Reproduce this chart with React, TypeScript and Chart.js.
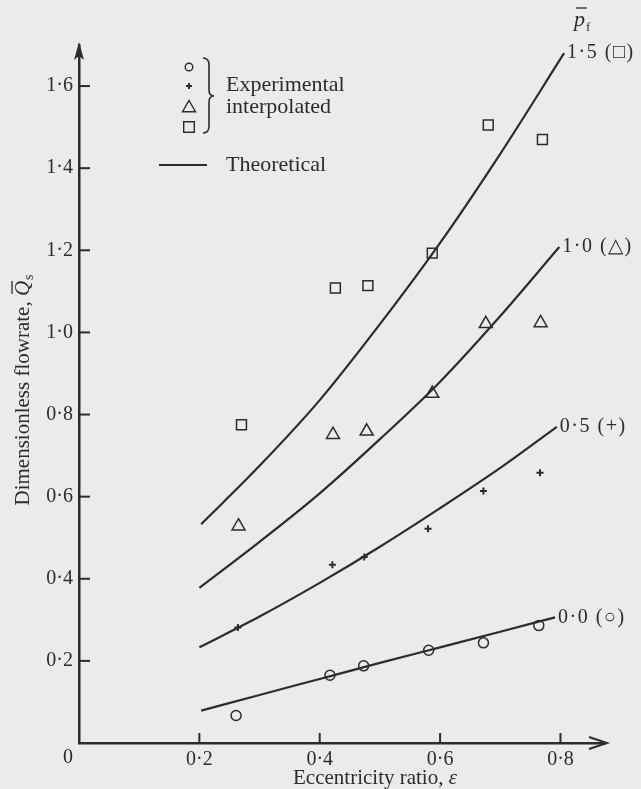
import React, { useEffect, useRef } from 'react';
import { Chart, registerables } from 'chart.js';

Chart.register(...registerables);

// ---- Theoretical curves (eccentricity ratio vs dimensionless flowrate) ----
const eps15 = [0.203, 0.3, 0.4, 0.5, 0.6, 0.7, 0.806];
const theory15 = [0.533, 0.675, 0.835, 1.02, 1.218, 1.435, 1.68];
const eps10 = [0.2, 0.3, 0.4, 0.5, 0.6, 0.7, 0.798];
const theory10 = [0.378, 0.49, 0.608, 0.74, 0.88, 1.04, 1.208];
const eps05 = [0.2, 0.3, 0.4, 0.5, 0.6, 0.7, 0.794];
const theory05 = [0.233, 0.308, 0.39, 0.478, 0.572, 0.67, 0.77];
const eps00 = [0.203, 0.3, 0.4, 0.5, 0.6, 0.7, 0.791];
const theory00 = [0.079, 0.117, 0.156, 0.195, 0.233, 0.271, 0.306];

// ---- Experimental interpolated points ----
const circleEps = [0.261, 0.417, 0.473, 0.581, 0.672, 0.764];
const circleQ = [0.067, 0.165, 0.188, 0.226, 0.244, 0.286];
const plusEps = [0.264, 0.421, 0.474, 0.58, 0.672, 0.766];
const plusQ = [0.281, 0.434, 0.453, 0.522, 0.614, 0.658];
const triEps = [0.265, 0.422, 0.478, 0.587, 0.676, 0.767];
const triQ = [0.528, 0.751, 0.759, 0.851, 1.021, 1.023];
const sqEps = [0.27, 0.426, 0.48, 0.587, 0.68, 0.77];
const sqQ = [0.775, 1.108, 1.114, 1.193, 1.505, 1.47];

// ---- Ticks and labels ----
const xTicks = [0.2, 0.4, 0.6, 0.8];
const yTicks = [0.2, 0.4, 0.6, 0.8, 1.0, 1.2, 1.4, 1.6];
const curveLabels = ['1·5 (□)', '1·0 (△)', '0·5 (+)', '0·0 (○)'];
const legendTexts = ['Experimental', 'interpolated', 'Theoretical'];
const xTitle = 'Eccentricity ratio, ';
const xTitleSym = 'ε';
const yTitle = 'Dimensionless flowrate, ';
const yTitleSym = 'Q';
const yTitleSub = 's';
const originLabel = '0';
const pSym = 'p';
const pSub = 'f';

const FONT = "'Liberation Serif', 'Times New Roman', serif";
const INK = '#2c2c2c';
const BG = '#ebebeb';

const pts = (xs: number[], ys: number[]) => xs.map((x, i) => ({ x, y: ys[i] }));
const fmt = (v: number | string) => Number(v).toFixed(1).replace('.', '·');

function drawMarker(ctx: CanvasRenderingContext2D, style: string, x: number, y: number, r: number) {
  ctx.beginPath();
  if (style === 'circle') {
    ctx.arc(x, y, r, 0, Math.PI * 2);
  } else if (style === 'cross') {
    ctx.moveTo(x - r, y); ctx.lineTo(x + r, y);
    ctx.moveTo(x, y - r); ctx.lineTo(x, y + r);
  } else if (style === 'triangle') {
    const w = r * Math.sqrt(3);
    ctx.moveTo(x, y - r);
    ctx.lineTo(x + w / 2, y + r / 2);
    ctx.lineTo(x - w / 2, y + r / 2);
    ctx.closePath();
  } else if (style === 'rect') {
    const s = r * Math.SQRT1_2;
    ctx.rect(x - s, y - s, 2 * s, 2 * s);
  }
  ctx.stroke();
}

const decor = {
  id: 'decor',
  beforeDraw(chart: any) {
    const { ctx } = chart;
    ctx.save();
    ctx.fillStyle = BG;
    ctx.fillRect(0, 0, chart.width, chart.height);
    ctx.restore();
  },
  afterDraw(chart: any) {
    const { ctx, chartArea, scales } = chart;
    const xs = scales.x, ys = scales.y;
    const x0 = xs.getPixelForValue(0), y0 = ys.getPixelForValue(0);
    ctx.save();
    ctx.strokeStyle = INK;
    ctx.fillStyle = INK;
    ctx.lineWidth = 2;
    // inward tick marks
    xTicks.forEach((v) => {
      const px = xs.getPixelForValue(v);
      ctx.beginPath(); ctx.moveTo(px, y0); ctx.lineTo(px, y0 - 10); ctx.stroke();
    });
    yTicks.forEach((v) => {
      const py = ys.getPixelForValue(v);
      ctx.beginPath(); ctx.moveTo(x0, py); ctx.lineTo(x0 + 11, py); ctx.stroke();
    });
    // arrow heads
    const top = chartArea.top;
    ctx.beginPath();
    ctx.moveTo(x0, top - 3);
    ctx.lineTo(x0 + 5, top + 15);
    ctx.lineTo(x0, top + 11);
    ctx.lineTo(x0 - 5, top + 15);
    ctx.closePath();
    ctx.fill();
    const right = chartArea.right;
    ctx.beginPath();
    ctx.moveTo(right - 16, y0 - 6);
    ctx.lineTo(right + 2, y0);
    ctx.lineTo(right - 16, y0 + 6);
    ctx.stroke();

    // origin label
    ctx.font = `20px ${FONT}`;
    ctx.textAlign = 'center';
    ctx.textBaseline = 'middle';
    ctx.fillText(originLabel, x0 - 11, y0 + 15);

    // axis titles
    ctx.font = `21px ${FONT}`;
    const wA = ctx.measureText(xTitle).width;
    ctx.font = `italic 21px ${FONT}`;
    const wB = ctx.measureText(xTitleSym).width;
    const xc = 375;
    const tx = xc - (wA + wB) / 2;
    ctx.textAlign = 'left';
    ctx.textBaseline = 'middle';
    ctx.font = `21px ${FONT}`;
    ctx.fillText(xTitle, tx, 778);
    ctx.font = `italic 21px ${FONT}`;
    ctx.fillText(xTitleSym, tx + wA, 778);

    // y title rotated
    ctx.save();
    ctx.translate(23, 390);
    ctx.rotate(-Math.PI / 2);
    ctx.font = `21px ${FONT}`;
    const w1 = ctx.measureText(yTitle).width;
    ctx.font = `italic 21px ${FONT}`;
    const w2 = ctx.measureText(yTitleSym).width;
    ctx.font = `14px ${FONT}`;
    const w3 = ctx.measureText(yTitleSub).width;
    const start = -(w1 + w2 + w3 + 1) / 2;
    ctx.font = `21px ${FONT}`;
    ctx.fillText(yTitle, start, 0);
    ctx.font = `italic 21px ${FONT}`;
    ctx.fillText(yTitleSym, start + w1, 0);
    ctx.lineWidth = 1.3;
    ctx.beginPath();
    ctx.moveTo(start + w1 + 2, -11);
    ctx.lineTo(start + w1 + w2, -11);
    ctx.stroke();
    ctx.font = `14px ${FONT}`;
    ctx.fillText(yTitleSub, start + w1 + w2 + 1, 6);
    ctx.restore();

    // curve end labels
    ctx.font = `20px ${FONT}`;
    ctx.textAlign = 'left';
    ctx.textBaseline = 'middle';
    (ctx as any).letterSpacing = '1.5px';
    for (let i = 0; i < 4; i++) {
      const meta = chart.getDatasetMeta(i);
      const last = meta.data[meta.data.length - 1];
      ctx.fillText(curveLabels[i], last.x + 3, last.y);
    }
    (ctx as any).letterSpacing = '0px';

    // p-bar_f header
    ctx.font = `italic 22px ${FONT}`;
    ctx.textBaseline = 'alphabetic';
    ctx.fillText(pSym, 574, 26);
    const pw = ctx.measureText(pSym).width;
    ctx.lineWidth = 1.3;
    ctx.beginPath(); ctx.moveTo(576, 8); ctx.lineTo(576 + pw, 8); ctx.stroke();
    ctx.font = `13px ${FONT}`;
    ctx.fillText(pSub, 574 + pw + 1, 31);

    // legend
    ctx.lineWidth = 1.4;
    drawMarker(ctx, 'circle', 189, 67, 3.8);
    ctx.lineWidth = 2;
    drawMarker(ctx, 'cross', 189, 86, 3);
    ctx.lineWidth = 1.4;
    drawMarker(ctx, 'triangle', 189, 108, 7.5);
    drawMarker(ctx, 'rect', 189, 127, 7.5);
    // brace
    ctx.lineWidth = 1.6;
    const bx0 = 203, bx1 = 209, bx2 = 214, bt = 58, bb = 133, bm = 96;
    ctx.beginPath();
    ctx.moveTo(bx0, bt);
    ctx.quadraticCurveTo(bx1, bt, bx1, bt + 7);
    ctx.lineTo(bx1, bm - 6);
    ctx.quadraticCurveTo(bx1, bm, bx2, bm);
    ctx.quadraticCurveTo(bx1, bm, bx1, bm + 6);
    ctx.lineTo(bx1, bb - 7);
    ctx.quadraticCurveTo(bx1, bb, bx0, bb);
    ctx.stroke();
    ctx.font = `22px ${FONT}`;
    ctx.textBaseline = 'middle';
    ctx.fillText(legendTexts[0], 226, 85);
    ctx.fillText(legendTexts[1], 226, 107);
    ctx.lineWidth = 2.2;
    ctx.beginPath(); ctx.moveTo(159, 165); ctx.lineTo(207, 165); ctx.stroke();
    ctx.fillText(legendTexts[2], 226, 165);
    ctx.restore();
  },
};

export default function App() {
  const ref = useRef<HTMLCanvasElement | null>(null);
  useEffect(() => {
    if (!ref.current) return;
    const lineDs = (xs: number[], ys: number[]) => ({
      type: 'line' as const,
      data: pts(xs, ys),
      showLine: true,
      borderColor: INK,
      borderWidth: 2.2,
      pointRadius: 0,
      fill: false,
      cubicInterpolationMode: 'monotone' as const,
    });
    const markDs = (xs: number[], ys: number[], style: string, r: number, bw: number) => ({
      type: 'scatter' as const,
      data: pts(xs, ys),
      showLine: false,
      pointStyle: style,
      pointRadius: r,
      pointBorderWidth: bw,
      borderColor: INK,
      backgroundColor: 'rgba(0,0,0,0)',
      pointBackgroundColor: 'rgba(0,0,0,0)',
      pointBorderColor: INK,
    });
    const chart = new Chart(ref.current, {
      type: 'scatter',
      data: {
        datasets: [
          lineDs(eps15, theory15),
          lineDs(eps10, theory10),
          lineDs(eps05, theory05),
          lineDs(eps00, theory00),
          markDs(sqEps, sqQ, 'rect', 7, 1.5),
          markDs(triEps, triQ, 'triangle', 7.5, 1.5),
          markDs(plusEps, plusQ, 'cross', 3.5, 2),
          markDs(circleEps, circleQ, 'circle', 5, 1.5),
        ] as any,
      },
      options: {
        animation: false,
        responsive: false,
        layout: { padding: { top: 45, right: 36, left: 0, bottom: 0 } },
        plugins: { legend: { display: false }, tooltip: { enabled: false } },
        scales: {
          x: {
            type: 'linear',
            min: 0,
            max: 0.874,
            grid: { display: false, drawTicks: false },
            border: { display: true, color: INK, width: 2.5 },
            ticks: {
              font: { family: FONT, size: 20 },
              color: INK,
              padding: 5,
              autoSkip: false,
              maxRotation: 0,
              callback: (v: any) => fmt(v),
            },
            afterBuildTicks: (s: any) => { s.ticks = xTicks.map((v) => ({ value: v })); },
            afterFit: (s: any) => { s.height = 46; },
          },
          y: {
            type: 'linear',
            min: 0,
            max: 1.7,
            grid: { display: false, drawTicks: false },
            border: { display: true, color: INK, width: 2.5 },
            ticks: {
              font: { family: FONT, size: 20 },
              color: INK,
              padding: 6,
              autoSkip: false,
              callback: (v: any) => fmt(v),
            },
            afterBuildTicks: (s: any) => { s.ticks = yTicks.map((v) => ({ value: v })); },
            afterFit: (s: any) => { s.width = 79; },
          },
        },
      } as any,
      plugins: [decor],
    });
    return () => chart.destroy();
  }, []);
  return (
    <div style={{ position: 'absolute', left: 0, top: 0, width: 641, height: 789 }}>
      <canvas ref={ref} width={641} height={789} style={{ display: 'block' }} />
    </div>
  );
}
